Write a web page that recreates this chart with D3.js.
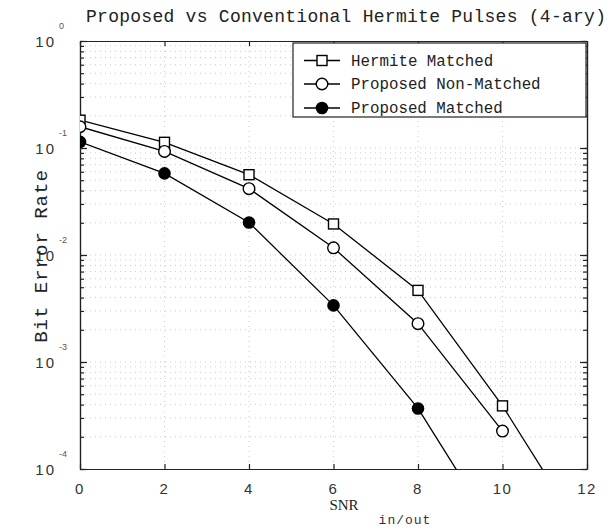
<!DOCTYPE html>
<html>
<head>
<meta charset="utf-8">
<script src="https://cdn.jsdelivr.net/npm/d3@7"></script>
<style>
  body { margin: 0; background: #fff; }
  svg { display: block; }
</style>
</head>
<body>
<svg id="chart" width="610" height="530"></svg>
<script>
// ---- data ----
const titleText = "Proposed vs Conventional Hermite Pulses (4-ary)";
const xTicks = [0, 2, 4, 6, 8, 10, 12];
const yDecades = [0, -1, -2, -3, -4];

const hermiteSNR = [0, 2, 4, 6, 8, 10, 12];
const hermiteBER = [0.182, 0.113, 0.0563, 0.0195, 0.00467, 0.000389, 0.0000216];

const nonMatchedSNR = [0, 2, 4, 6, 8, 10];
const nonMatchedBER = [0.158, 0.0929, 0.0417, 0.01167, 0.00228, 0.000226];

const matchedSNR = [0, 2, 4, 6, 8, 10];
const matchedBER = [0.114, 0.0579, 0.0201, 0.00338, 0.000368, 0.0000203];

const seriesNames = ["Hermite Matched", "Proposed Non-Matched", "Proposed Matched"];
const seriesMarkers = ["square", "circle", "dot"];

// ---- layout ----
const svg = d3.select("#chart");
const L = 80, R = 587, T = 41, B = 469;
const x = d3.scaleLinear().domain([0, 12]).range([L, R]);
const y = d3.scaleLog().domain([1e-4, 1]).range([B, T]);

const mono = "'Liberation Mono', 'DejaVu Sans Mono', monospace";
const sans = "'Liberation Sans', Arial, sans-serif";
const serif = "'Liberation Serif', 'Times New Roman', serif";

svg.append("defs").append("clipPath").attr("id", "plotclip")
  .append("rect").attr("x", L).attr("y", T).attr("width", R - L).attr("height", B - T);

// ---- grid ----
const minorVals = [];
for (let e = -4; e < 0; e++) for (let m = 1; m <= 9; m++) minorVals.push(m * Math.pow(10, e));
minorVals.push(1);
const grid = svg.append("g").attr("stroke", "#bdbdbd").attr("stroke-width", 0.8).attr("stroke-dasharray", "1,4");
grid.selectAll("line.h").data(minorVals.filter(v => v > 1e-4 && v < 1)).enter().append("line")
  .attr("x1", L).attr("x2", R).attr("y1", d => y(d)).attr("y2", d => y(d));
grid.selectAll("line.v").data(xTicks.filter(v => v > 0 && v < 12)).enter().append("line")
  .attr("y1", T).attr("y2", B).attr("x1", d => x(d)).attr("x2", d => x(d));

// ---- axes (box with inward ticks) ----
const axB = d3.axisBottom(x).tickValues(xTicks).tickSizeInner(-5).tickSizeOuter(0).tickFormat("");
const axT = d3.axisTop(x).tickValues(xTicks).tickSizeInner(-5).tickSizeOuter(0).tickFormat("");
const axLf = d3.axisLeft(y).tickValues(minorVals).tickSizeInner(-4).tickSizeOuter(0).tickFormat("");
const axRt = d3.axisRight(y).tickValues(minorVals).tickSizeInner(-4).tickSizeOuter(0).tickFormat("");
const axMajL = d3.axisLeft(y).tickValues(yDecades.map(e => Math.pow(10, e))).tickSizeInner(-7).tickSizeOuter(0).tickFormat("");
const axMajR = d3.axisRight(y).tickValues(yDecades.map(e => Math.pow(10, e))).tickSizeInner(-7).tickSizeOuter(0).tickFormat("");
[[axB, `translate(0,${B})`], [axT, `translate(0,${T})`], [axLf, `translate(${L},0)`],
 [axRt, `translate(${R},0)`], [axMajL, `translate(${L},0)`], [axMajR, `translate(${R},0)`]].forEach(([a, t]) => {
  const g = svg.append("g").attr("transform", t).call(a);
  g.selectAll("path, line").attr("stroke", "#222").attr("stroke-width", 1.2);
});

// x tick labels
svg.append("g").selectAll("text").data(xTicks).enter().append("text")
  .attr("x", d => x(d)).attr("y", 494).attr("text-anchor", "middle")
  .attr("font-family", sans).attr("font-size", 15).attr("letter-spacing", 1.5).attr("fill", "#333")
  .text(d => d);

// y tick labels 10^e
const yl = svg.append("g").selectAll("g").data(yDecades).enter().append("g");
yl.append("text").attr("x", 56).attr("y", d => y(Math.pow(10, d)) + 6).attr("text-anchor", "end")
  .attr("font-family", sans).attr("font-size", 15).attr("letter-spacing", 2).attr("fill", "#333").text("10");
yl.append("text").attr("x", 59).attr("y", d => y(Math.pow(10, d)) - 12)
  .attr("font-family", sans).attr("font-size", 9).attr("fill", "#555")
  .text(d => d === 0 ? "0" : String(d));

// ---- lines and markers ----
const line = d3.line().x(d => x(d[0])).y(d => y(d[1]));
const series = [
  d3.zip(hermiteSNR, hermiteBER),
  d3.zip(nonMatchedSNR, nonMatchedBER),
  d3.zip(matchedSNR, matchedBER)
];
const plot = svg.append("g").attr("clip-path", "url(#plotclip)");
function drawMarker(g, kind, cx, cy) {
  if (kind === "square") {
    g.append("rect").attr("x", cx - 5).attr("y", cy - 5).attr("width", 10).attr("height", 10)
      .attr("fill", "#fff").attr("stroke", "#000").attr("stroke-width", 1.4);
  } else if (kind === "circle") {
    g.append("circle").attr("cx", cx).attr("cy", cy).attr("r", 5.8)
      .attr("fill", "#fff").attr("stroke", "#000").attr("stroke-width", 1.4);
  } else {
    g.append("circle").attr("cx", cx).attr("cy", cy).attr("r", 6.3).attr("fill", "#000");
  }
}
series.forEach((data, i) => {
  plot.append("path").datum(data).attr("d", line).attr("fill", "none")
    .attr("stroke", "#000").attr("stroke-width", 1.3);
});
series.forEach((data, i) => {
  data.forEach(p => {
    if (p[1] >= 1e-4) drawMarker(plot, seriesMarkers[i], x(p[0]), y(p[1]));
  });
});

// ---- legend ----
const lg = svg.append("g");
lg.append("rect").attr("x", 293).attr("y", 43).attr("width", 293).attr("height", 74)
  .attr("fill", "#fff").attr("stroke", "#222").attr("stroke-width", 1.2);
const rowY = [60.5, 84, 108];
seriesNames.forEach((name, i) => {
  lg.append("line").attr("x1", 304).attr("x2", 340).attr("y1", rowY[i]).attr("y2", rowY[i])
    .attr("stroke", "#000").attr("stroke-width", 1.4);
  drawMarker(lg, seriesMarkers[i], 322, rowY[i]);
  lg.append("text").attr("x", 351).attr("y", rowY[i] + 5).attr("font-family", mono)
    .attr("font-size", 15.8).attr("fill", "#222").text(name);
});

// ---- titles ----
svg.append("text").attr("x", 86).attr("y", 22).attr("font-family", mono)
  .attr("font-size", 18).attr("textLength", 520).attr("lengthAdjust", "spacing")
  .attr("fill", "#222").text(titleText);

svg.append("text").attr("transform", "translate(47,256) rotate(-90)").attr("text-anchor", "middle")
  .attr("font-family", mono).attr("font-size", 19).attr("letter-spacing", 1)
  .attr("fill", "#222").text("Bit Error Rate");

svg.append("text").attr("x", 344).attr("y", 510).attr("text-anchor", "middle")
  .attr("font-family", serif).attr("font-size", 15).attr("fill", "#222").text("SNR");
svg.append("text").attr("x", 405).attr("y", 524).attr("text-anchor", "middle")
  .attr("font-family", mono).attr("font-size", 13).attr("letter-spacing", 1).attr("fill", "#333").text("in/out");
</script>
</body>
</html>
